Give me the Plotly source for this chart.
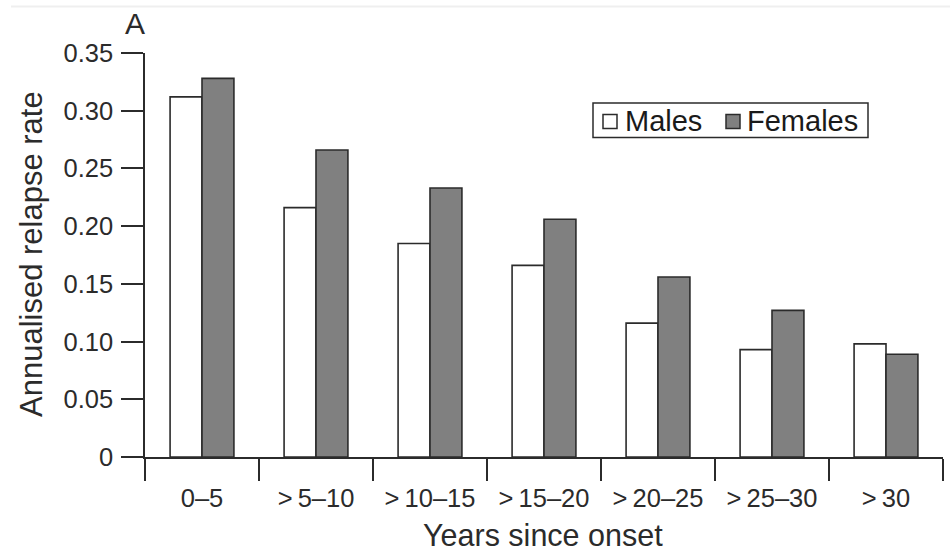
import plotly.graph_objects as go

categories = ["0–5", ">\u20095–10", ">\u200910–15", ">\u200915–20", ">\u200920–25", ">\u200925–30", ">\u200930"]
males = [0.312, 0.216, 0.185, 0.166, 0.116, 0.093, 0.098]
females = [0.328, 0.266, 0.233, 0.206, 0.156, 0.127, 0.089]
ytick_vals = [0, 0.05, 0.10, 0.15, 0.20, 0.25, 0.30, 0.35]
ytick_text = ["0", "0.05", "0.10", "0.15", "0.20", "0.25", "0.30", "0.35"]
series_names = ["Males", "Females"]
series_fills = ["#ffffff", "#808080"]

FONT = "Liberation Sans, Arial, sans-serif"
INK = "#2b2b2b"

# plot area in pixels (for placing non-data decorations)
L, R, T, B = 145, 943, 53, 457


def px(x):
    return (x - L) / (R - L)


def py(y):
    return (B - y) / (B - T)


fig = go.Figure()
for name, vals, fill in zip(series_names, [males, females], series_fills):
    fig.add_trace(go.Bar(
        name=name, x=categories, y=vals,
        marker=dict(color=fill, line=dict(color=INK, width=1.6)),
    ))

# manual compact legend (box, swatches, labels)
shapes = [
    dict(type="line", xref="paper", yref="paper", x0=px(11), x1=px(950), y0=py(6.5), y1=py(6.5),
         line=dict(color="#efefef", width=2)),
    dict(type="rect", xref="paper", yref="paper", x0=px(593), x1=px(868), y0=py(103), y1=py(137.5),
         line=dict(color=INK, width=1.5), fillcolor="rgba(0,0,0,0)"),
]
swatch_x = [(603, 617), (726, 740)]
label_x = [624, 746]
annotations = []
for (sx0, sx1), lx, name, fill in zip(swatch_x, label_x, series_names, series_fills):
    shapes.append(dict(type="rect", xref="paper", yref="paper", x0=px(sx0), x1=px(sx1),
                       y0=py(114.5), y1=py(128.5), line=dict(color=INK, width=1.5), fillcolor=fill))
    annotations.append(dict(text=name, xref="paper", yref="paper", x=px(lx - 1), y=py(120.5),
                            xanchor="left", yanchor="middle", showarrow=False,
                            font=dict(size=29, color="#1a1a1a")))

annotations += [
    dict(text="Annualised relapse rate", textangle=-90, xref="paper", yref="paper",
         x=px(31), y=py(254), xanchor="center", yanchor="middle", showarrow=False,
         font=dict(size=31, color=INK)),
    dict(text="Years since onset", xref="paper", yref="paper",
         x=px(543), y=py(552.5), xanchor="center", yanchor="bottom", showarrow=False,
         font=dict(size=30.5, color=INK), borderpad=0),
    dict(text="A", xref="paper", yref="paper",
         x=px(135), y=py(24), xanchor="center", yanchor="middle", showarrow=False,
         font=dict(size=30, color=INK)),
]

fig.update_layout(
    width=950, height=553,
    margin=dict(l=L, r=950 - R, t=T, b=553 - B),
    paper_bgcolor="white", plot_bgcolor="white",
    barmode="group", bargap=0.44, bargroupgap=0,
    font=dict(family=FONT, size=25, color=INK),
    showlegend=False,
    xaxis=dict(
        type="category", showline=True, linecolor=INK, linewidth=1.5,
        ticks="outside", tickson="boundaries", ticklen=22, tickwidth=1.5, tickcolor=INK,
        showgrid=False, zeroline=False, tickfont=dict(size=25.5, color=INK),
        ticklabelstandoff=18,
    ),
    yaxis=dict(
        range=[0, 0.35], showline=True, linecolor=INK, linewidth=1.5,
        ticks="outside", ticklen=22, tickwidth=1.5, tickcolor=INK,
        tickvals=ytick_vals, ticktext=ytick_text,
        showgrid=False, zeroline=False, tickfont=dict(size=25.5, color=INK),
        ticklabelstandoff=3,
    ),
    annotations=annotations,
    shapes=shapes,
)

fig.write_html("out.html")
